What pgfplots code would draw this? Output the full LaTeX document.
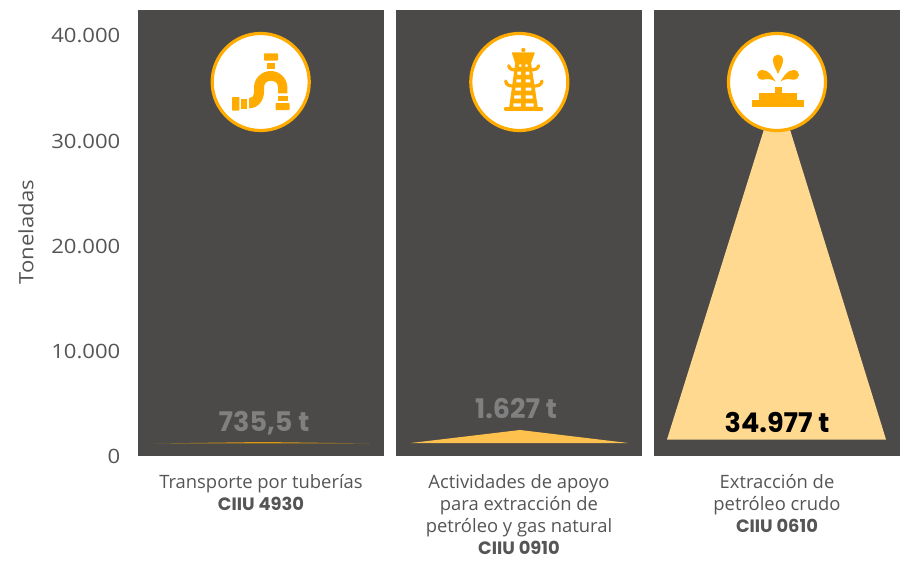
\documentclass[border=0pt]{standalone}
\usepackage{fontspec}
\setmainfont{Open Sans}
\newfontfamily\heavy{Poppins}
\newfontfamily\wide{Open Sans}[FakeStretch=1.12]
\usepackage{pgfplots}
\pgfplotsset{compat=1.18}
\definecolor{panel}{HTML}{4B4A48}
\definecolor{txt}{HTML}{555555}
\definecolor{icon}{HTML}{FFAB00}
\definecolor{triA}{HTML}{FFAB00}
\definecolor{triB}{HTML}{FFC14D}
\definecolor{triC}{HTML}{FFD98F}
\definecolor{muted}{HTML}{808080}
\newcommand{\hb}[1]{{\heavy\bfseries #1}}
\begin{document}
\begin{tikzpicture}[x=0.75pt,y=-0.75pt]
\path[use as bounding box] (0,0) rectangle (909,560);
\begin{axis}[
  at={(103.5pt,-342pt)}, anchor=south west,
  scale only axis, width=571.5pt, height=334.5pt,
  xmin=138, xmax=900, ymin=0, ymax=42355,
  axis line style={draw=none},
  hide x axis,
  axis y line=left,
  major tick length=0pt,
  ytick={0,10000,20000,30000,40000},
  /pgf/number format/assume math mode=true,
  /pgf/number format/1000 sep={.},
  scaled y ticks=false,
  yticklabel style={font=\wide\fontsize{14.8}{17}\selectfont, text=txt, anchor=east, xshift=-9.7pt, yshift=-0.7pt},
  ylabel={Toneladas},
  ylabel style={font=\wide\fontsize{14.8}{16}\selectfont, text=txt, at={(axis description cs:-0.147,0.502)}, anchor=center},
  clip=false,
]
% panels
\addplot[fill=panel, draw=none] coordinates {(138,0)(384,0)(384,42355)(138,42355)} -- cycle;
\addplot[fill=panel, draw=none] coordinates {(396,0)(642,0)(642,42355)(396,42355)} -- cycle;
\addplot[fill=panel, draw=none] coordinates {(654,0)(900,0)(900,42355)(654,42355)} -- cycle;
% triangles, x in panel units, y in tonnes
\addplot[fill=triA, draw=none, fill opacity=0.8] coordinates {(155,1190)(263,1330)(370,1190)} -- cycle;
\addplot[fill=triB, draw=none] coordinates {(411,1235)(520,2470)(628,1235)} -- cycle;
\addplot[fill=triC, draw=none] coordinates {(667,1567)(777,34977)(886,1567)} -- cycle;
\end{axis}
% value labels
\node[font=\fontsize{20.3}{24}\selectfont, text=muted] at (264,423) {\hb{735,5 t}};
\node[font=\fontsize{20.3}{24}\selectfont, text=muted] at (516,409) {\hb{1.627 t}};
\node[font=\fontsize{20.3}{24}\selectfont, text=black] at (777,422) {\hb{34.977 t}};
% category labels
\node[anchor=north, align=center, text=txt, font=\fontsize{13.8}{16.6}\selectfont] at (261,469.5) {Transporte por tuberías\\\hb{\fontsize{13.4}{16.6}\selectfont CIIU 4930}};
\node[anchor=north, align=center, text=txt, font=\fontsize{13.8}{16.6}\selectfont] at (519,469.5) {Actividades de apoyo\\para extracción de\\petróleo y gas natural\\\hb{\fontsize{13.4}{16.6}\selectfont CIIU 0910}};
\node[anchor=north, align=center, text=txt, font=\fontsize{13.8}{16.6}\selectfont] at (777,469.5) {Extracción de\\petróleo crudo\\\hb{\fontsize{13.4}{16.6}\selectfont CIIU 0610}};
% icon discs
\foreach \cx in {260.7,519.3,777}
  \draw[icon, fill=white, line width=2.4pt] (\cx,82) circle[radius=36.4pt];
% pipe
\begin{scope}[shift={(138,10)},x=0.25pt,y=-0.25pt,fill=icon,draw=none]
  \fill[rounded corners=0.6pt] (378,130) rectangle (420,152);
  \fill (387,158) rectangle (412,178);
  \fill[rounded corners=0.6pt] (282,261) rectangle (304,302);
  \fill (310,267) rectangle (327,296);
  \fill (420,258) rectangle (450,273);
  \fill[rounded corners=0.6pt] (413,279) rectangle (455,300);
  \fill (448,250) -- (448,232) .. controls (448,205) and (425,183) .. (398,183)
    .. controls (371,183) and (348,205) .. (348,232) -- (348,245)
    .. controls (348,258) and (342,265) .. (333,265) -- (333,295)
    .. controls (360,295) and (378,272) .. (378,245) -- (378,232)
    .. controls (378,220) and (387,212) .. (399,212)
    .. controls (411,212) and (420,220) .. (420,232) -- (420,250) -- cycle;
\end{scope}
% tower
\begin{scope}[shift={(396,10)},x=0.25pt,y=-0.25pt]
  \fill[icon] (382,120) circle[radius=1.6pt];
  \fill[icon, rounded corners=0.5pt] (347,127) -- (417,127) -- (405,160) -- (358,160) -- cycle;
  \fill[icon, even odd rule] (358,158) -- (405,158) -- (426,296) -- (339,296) -- cycle
    (369,163) rectangle (376,171) (388,163) rectangle (395,171)
    (364,185) rectangle (375,195) (389,185) rectangle (400,195)
    (361,208) rectangle (375,217) (389,208) rectangle (403,217)
    (358,233) rectangle (375,242) (389,233) rectangle (406,242)
    (354,256) rectangle (375,266) (389,256) rectangle (410,266)
    (352,280) rectangle (375,290) (389,280) rectangle (413,290);
  \draw[icon, line width=2.8pt, line cap=round] (329,296) -- (436,296);
  \draw[icon, line width=2.4pt, line cap=round] (338,167) .. controls (340,178) and (350,180) .. (362,180);
  \draw[icon, line width=2.4pt, line cap=round] (428,167) .. controls (426,178) and (414,180) .. (402,180);
  \draw[icon, line width=2.4pt, line cap=round] (329,213) .. controls (331,226) and (340,228) .. (352,228);
  \draw[icon, line width=2.4pt, line cap=round] (438,213) .. controls (436,226) and (426,228) .. (414,228);
\end{scope}
% fountain
\begin{scope}[shift={(654,10)},x=0.25pt,y=-0.25pt]
  \fill[icon] (295,270) rectangle (450,291);
  \fill[icon] (314,250) rectangle (430,271);
  \fill[icon] (362,230) rectangle (383,251);
  \fill[icon] (372,192) .. controls (365,175) and (357,165) .. (357,150)
    .. controls (357,140) and (364,134) .. (372,134)
    .. controls (380,134) and (387,140) .. (387,150)
    .. controls (387,165) and (379,175) .. (372,192) -- cycle;
  \fill[icon] (365,215) .. controls (355,200) and (345,180) .. (325,180)
    .. controls (315,180) and (309,188) .. (309,195)
    .. controls (309,203) and (317,210) .. (327,209)
    .. controls (340,207) and (352,205) .. (365,215) -- cycle;
  \fill[icon] (379,215) .. controls (389,200) and (399,180) .. (419,180)
    .. controls (429,180) and (435,188) .. (435,195)
    .. controls (435,203) and (427,210) .. (417,209)
    .. controls (404,207) and (392,205) .. (379,215) -- cycle;
\end{scope}
\end{tikzpicture}
\end{document}
